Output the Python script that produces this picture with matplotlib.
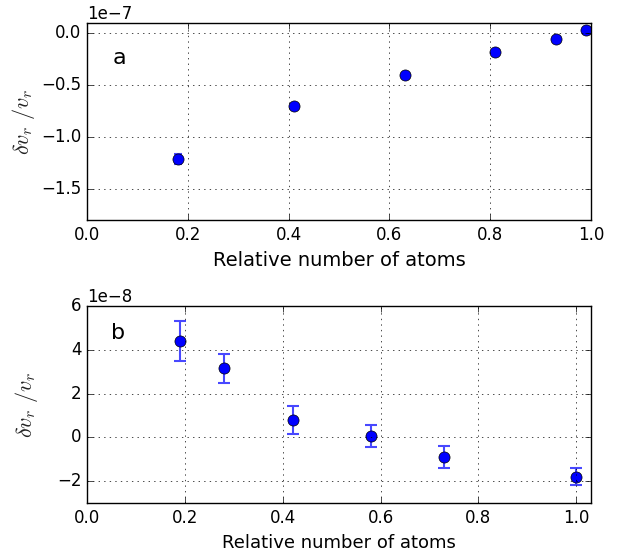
import matplotlib
matplotlib.use("Agg")
import matplotlib.pyplot as plt
import numpy as np

plt.style.use('classic')

# panel a
xa = [0.18, 0.41, 0.63, 0.81, 0.93, 0.99]
ya = [-1.21e-7, -0.70e-7, -0.40e-7, -0.18e-7, -0.05e-7, 0.03e-7]
ea = [0.05e-7, 0.0, 0.0, 0.0, 0.0, 0.0]

# panel b
xb = [0.19, 0.28, 0.42, 0.58, 0.73, 1.0]
yb = [4.4e-8, 3.15e-8, 0.8e-8, 0.08e-8, -0.9e-8, -1.8e-8]
eb = [0.9e-8, 0.65e-8, 0.65e-8, 0.5e-8, 0.5e-8, 0.4e-8]

fig = plt.figure(figsize=(6.27, 5.54), dpi=100, facecolor='white')

ax1 = fig.add_axes([87/627, 1 - 220/554, 504/627, 197/554])
ax1.errorbar(xa, ya, yerr=ea, fmt='o', color='blue', ecolor='#4848ff',
             markersize=8, markeredgecolor='black', capsize=3, elinewidth=1.5,
             capthick=1.5)
ax1.set_xlim(0, 1.0)
ax1.set_ylim(-1.8e-7, 0.1e-7)
ax1.set_yticks([-1.5e-7, -1.0e-7, -0.5e-7, 0.0])
ax1.grid(True)
ax1.set_xlabel('Relative number of atoms', fontsize=14)
ax1.set_ylabel(r'$\delta v_r\ /v_r$', color='#222222', fontsize=16)
ax1.yaxis.set_label_coords(-0.099, 0.5)
ax1.text(0.05, -0.24e-7, 'a', fontsize=16, va='center')

ax2 = fig.add_axes([87/627, 1 - 503/554, 504/627, 197/554])
ax2.errorbar(xb, yb, yerr=eb, fmt='o', color='blue', ecolor='#4848ff',
             markersize=8, markeredgecolor='black', capsize=4, elinewidth=1.5,
             capthick=1.5)
ax2.set_xlim(0, 1.03)
ax2.set_ylim(-3e-8, 6e-8)
ax2.set_yticks([-2e-8, 0, 2e-8, 4e-8, 6e-8])
ax2.grid(True)
ax2.set_xlabel('Relative number of atoms', fontsize=13)
ax2.set_ylabel(r'$\delta v_r\ /v_r$', color='#222222', fontsize=16)
ax2.yaxis.set_label_coords(-0.093, 0.5)
ax2.text(0.05, 4.76e-8, 'b', fontsize=16, va='center')

fig.savefig('out.png', dpi=100, facecolor='white')
